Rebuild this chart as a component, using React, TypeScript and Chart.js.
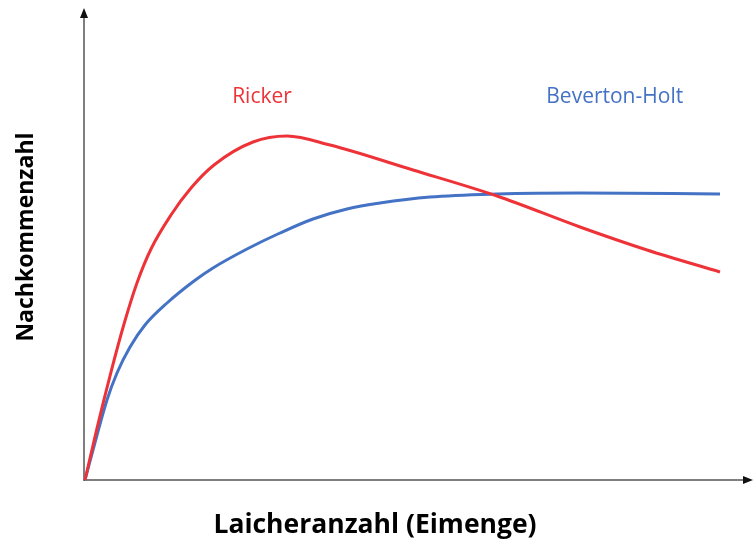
import React, { useEffect, useRef } from "react";
import { Chart, registerables } from "chart.js";

Chart.register(...registerables);

// Spawning stock (x) and recruitment (y), arbitrary units 0..100
const rickerX = [0, 1.8, 3.89, 5.84, 7.78, 9.88, 12.87, 15.87, 19.31, 25.15, 30.24, 36.68, 49.1, 61.68, 74.1, 84.13, 95.06];
const rickerY = [0, 11.02, 22.88, 33.05, 41.74, 48.94, 56.14, 61.86, 66.74, 71.61, 72.88, 70.97, 65.68, 60.17, 53.6, 48.73, 44.07];
const bhX = [0, 1.8, 3.29, 4.79, 6.74, 8.98, 12.28, 16.32, 19.16, 24.25, 29.19, 34.13, 39.22, 44.16, 51.65, 61.68, 74.1, 95.06];
const bhY = [0, 9.53, 16.95, 22.67, 28.18, 32.84, 37.5, 42.16, 44.92, 48.94, 52.33, 55.3, 57.42, 58.69, 59.96, 60.59, 60.81, 60.59];

const seriesNames = ["Ricker", "Beverton-Holt"];
const labelX = [26.5, 79.3];
const labelY = [79.9, 79.9];
const xTitle = "Laicheranzahl (Eimenge)";
const yTitle = "Nachkommenzahl";

const RED = "#EE3338";
const BLUE = "#4472C4";

export default function App() {
  const ref = useRef<HTMLCanvasElement | null>(null);

  useEffect(() => {
    if (!ref.current) return;
    const toPts = (xs: number[], ys: number[]) => xs.map((x, i) => ({ x, y: ys[i] }));

    const decor = {
      id: "decor",
      beforeDatasetsDraw(chart: any) {
        const { ctx, chartArea } = chart;
        const ox = chartArea.left - 1;
        const oy = chartArea.bottom;
        ctx.save();
        ctx.strokeStyle = "#555555";
        ctx.fillStyle = "#111111";
        ctx.lineWidth = 1.5;
        ctx.beginPath();
        ctx.moveTo(ox, oy + 1);
        ctx.lineTo(ox, chartArea.top + 6);
        ctx.stroke();
        ctx.beginPath();
        ctx.moveTo(ox, chartArea.top);
        ctx.lineTo(ox - 4, chartArea.top + 10);
        ctx.lineTo(ox + 4, chartArea.top + 10);
        ctx.closePath();
        ctx.fill();
        ctx.beginPath();
        ctx.moveTo(ox, oy);
        ctx.lineTo(chartArea.right - 6, oy);
        ctx.stroke();
        ctx.beginPath();
        ctx.moveTo(chartArea.right, oy);
        ctx.lineTo(chartArea.right - 10, oy - 4);
        ctx.lineTo(chartArea.right - 10, oy + 4);
        ctx.closePath();
        ctx.fill();
        ctx.restore();
      },
      afterDraw(chart: any) {
        const { ctx, chartArea, scales } = chart;
        ctx.save();
        ctx.textAlign = "center";
        ctx.textBaseline = "alphabetic";
        ctx.font = "21px 'Open Sans'";
        const colors = [RED, BLUE];
        seriesNames.forEach((n, i) => {
          ctx.fillStyle = colors[i];
          ctx.fillText(n, scales.x.getPixelForValue(labelX[i]), scales.y.getPixelForValue(labelY[i]));
        });
        ctx.fillStyle = "#000000";
        ctx.font = "bold 26.5px 'Open Sans'";
        ctx.fillText(xTitle, 375, chartArea.bottom + 53);
        ctx.translate(33, (chartArea.top + chartArea.bottom) / 2 - 7);
        ctx.rotate(-Math.PI / 2);
        ctx.font = "bold 23px 'Open Sans'";
        ctx.fillText(yTitle, 0, 0);
        ctx.restore();
      },
    };

    const chart = new Chart(ref.current, {
      type: "line",
      data: {
        datasets: [
          {
            label: seriesNames[0],
            data: toPts(rickerX, rickerY),
            borderColor: RED,
            borderWidth: 3,
            pointRadius: 0,
            cubicInterpolationMode: "monotone",
            fill: false,
          },
          {
            label: seriesNames[1],
            data: toPts(bhX, bhY),
            borderColor: BLUE,
            borderWidth: 3,
            pointRadius: 0,
            cubicInterpolationMode: "monotone",
            fill: false,
          },
        ],
      },
      options: {
        animation: false,
        responsive: false,
        layout: { padding: { left: 85, right: 1, top: 8, bottom: 62 } },
        scales: {
          x: { type: "linear", min: 0, max: 100, display: false },
          y: { type: "linear", min: 0, max: 100, display: false },
        },
        plugins: { legend: { display: false }, tooltip: { enabled: false } },
        clip: false as any,
      },
      plugins: [decor],
    });
    return () => chart.destroy();
  }, []);

  return (
    <div style={{ position: "fixed", left: 0, top: 0, width: 754, height: 542, background: "#fff" }}>
      <canvas ref={ref} width={754} height={542} style={{ width: 754, height: 542 }} />
    </div>
  );
}
